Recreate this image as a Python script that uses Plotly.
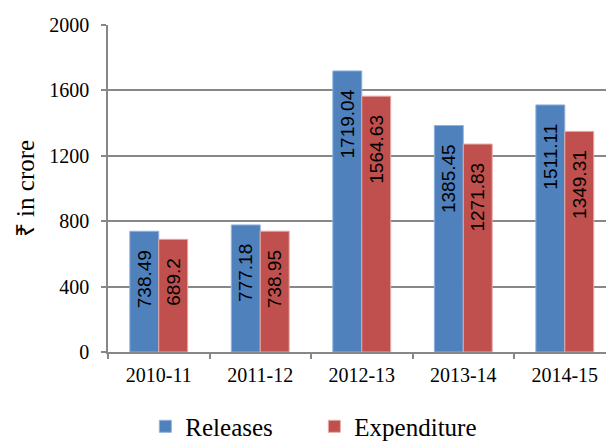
import plotly.graph_objects as go

years = ["2010-11", "2011-12", "2012-13", "2013-14", "2014-15"]
releases = [738.49, 777.18, 1719.04, 1385.45, 1511.11]
expenditure = [689.2, 738.95, 1564.63, 1271.83, 1349.31]
y_ticks = [0, 400, 800, 1200, 1600, 2000]

GRID = "#878787"
label_font = dict(family="Liberation Sans", size=19, color="black")

fig = go.Figure()
fig.add_trace(go.Bar(
    name="Releases", x=years, y=releases,
    marker=dict(color="#4F81BD", line=dict(color="#8FB1DE", width=1)),
    text=[f"{v:g}" for v in releases], texttemplate="%{text}   ",
    textposition="inside", insidetextanchor="end", textangle=-90,
    insidetextfont=label_font,
))
fig.add_trace(go.Bar(
    name="Expenditure", x=years, y=expenditure,
    marker=dict(color="#C0504D", line=dict(color="#E6A9A7", width=1)),
    text=[f"{v:g}" for v in expenditure], texttemplate="%{text}   ",
    textposition="inside", insidetextanchor="end", textangle=-90,
    insidetextfont=label_font,
))

fig.update_layout(
    width=606, height=444,
    margin=dict(l=108, r=0, t=25, b=92, autoexpand=False),
    paper_bgcolor="white", plot_bgcolor="white",
    barmode="group", bargap=0.43, bargroupgap=0,
    font=dict(family="Liberation Serif", size=20, color="black"),
    showlegend=True,
    legend=dict(orientation="h", x=0.075, xanchor="left", y=-0.228, yanchor="middle",
                font=dict(family="Liberation Serif", size=25, color="black"),
                entrywidth=124, entrywidthmode="pixels", traceorder="normal"),
    xaxis=dict(type="category", range=[-0.5, 4.406], showline=True, linecolor=GRID, linewidth=1.5,
               ticks="outside", tickson="boundaries", ticklen=5, tickcolor=GRID, tickwidth=1.5,
               ticklabelstandoff=4,
               showgrid=False, tickfont=dict(family="Liberation Serif", size=20)),
    yaxis=dict(range=[0, 2000], tickvals=y_ticks, showline=True, linecolor=GRID, linewidth=1.5,
               ticks="outside", ticklen=5, tickcolor=GRID, tickwidth=1.5,
               showgrid=True, gridcolor=GRID, gridwidth=1.5, zeroline=False,
               ticklabelstandoff=8,
               tickfont=dict(family="Liberation Serif", size=20),
               title=dict(text="₹ in crore", font=dict(family="Liberation Serif", size=25),
                          standoff=8)),
)

fig.write_html("out.html", config={"displayModeBar": False},
               post_script="document.body.style.margin='0';document.body.style.padding='0';")
